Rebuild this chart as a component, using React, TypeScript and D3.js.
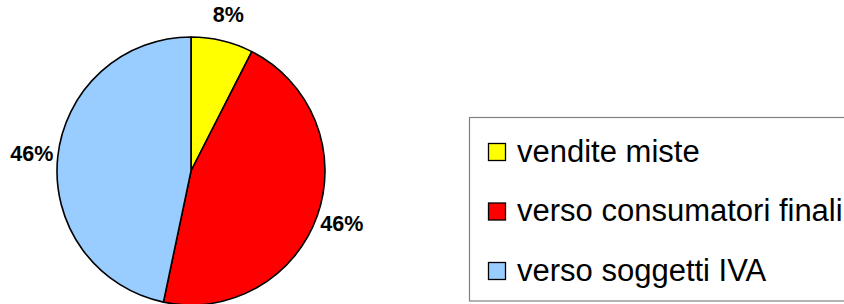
import React, { useEffect, useRef } from 'react';
import * as d3 from 'd3';

const categories = ['vendite miste', 'verso consumatori finali', 'verso soggetti IVA'];
const values = [7.5, 45.8, 46.7];
const labels = ['8%', '46%', '46%'];
const colors = ['#FFFF00', '#FF0000', '#99CCFF'];

const App = () => {
    const ref = useRef<SVGSVGElement>(null);

    useEffect(() => {
        const width = 844;
        const height = 304;
        const cx = 191;
        const cy = 171;
        const radius = 134;

        const svg = d3.select(ref.current);
        svg.selectAll('*').remove();
        svg.attr('width', width).attr('height', height);

        const data = categories.map((c, i) => ({ name: c, value: values[i], label: labels[i], color: colors[i] }));

        const pie = d3.pie<any>().sort(null).value(d => d.value);
        const arcs = pie(data);
        const arc = d3.arc<any>().innerRadius(0).outerRadius(radius);
        const labelArc = d3.arc<any>().innerRadius(160).outerRadius(160);

        const g = svg.append('g').attr('transform', `translate(${cx}, ${cy})`);

        g.selectAll('path')
            .data(arcs)
            .enter()
            .append('path')
            .attr('d', arc)
            .style('fill', d => d.data.color)
            .style('stroke', 'black')
            .style('stroke-width', 1.6)
            .style('stroke-linejoin', 'round');

        g.selectAll('text')
            .data(arcs)
            .enter()
            .append('text')
            .attr('x', d => labelArc.centroid(d)[0])
            .attr('y', d => labelArc.centroid(d)[1])
            .attr('text-anchor', 'middle')
            .attr('dominant-baseline', 'central')
            .style('font-family', '"Liberation Sans", Arial, sans-serif')
            .style('font-weight', 'bold')
            .style('font-size', '21.5px')
            .text(d => d.data.label);

        // legend
        const legend = svg.append('g');
        legend.append('rect')
            .attr('x', 469.5)
            .attr('y', 117.5)
            .attr('width', 400)
            .attr('height', 183.5)
            .style('fill', 'white')
            .style('stroke', '#808080')
            .style('stroke-width', 1.2);

        const rowY = d3.scalePoint<string>().domain(categories).range([161.5, 280.5]);

        const items = legend.selectAll('g.item')
            .data(data)
            .enter()
            .append('g')
            .attr('class', 'item')
            .attr('transform', d => `translate(0, ${rowY(d.name)})`);

        items.append('rect')
            .attr('x', 488.5)
            .attr('y', -18)
            .attr('width', 17)
            .attr('height', 17)
            .style('fill', d => d.color)
            .style('stroke', 'black')
            .style('stroke-width', 1.3);

        items.append('text')
            .attr('x', 517)
            .attr('y', 0)
            .style('font-family', '"Liberation Sans", Arial, sans-serif')
            .style('font-size', '31px')
            .style('fill', 'black')
            .text(d => d.name);
    }, []);

    return <svg ref={ref} style={{ position: 'absolute', left: 0, top: 0, background: 'white' }} />;
};

export default App;
